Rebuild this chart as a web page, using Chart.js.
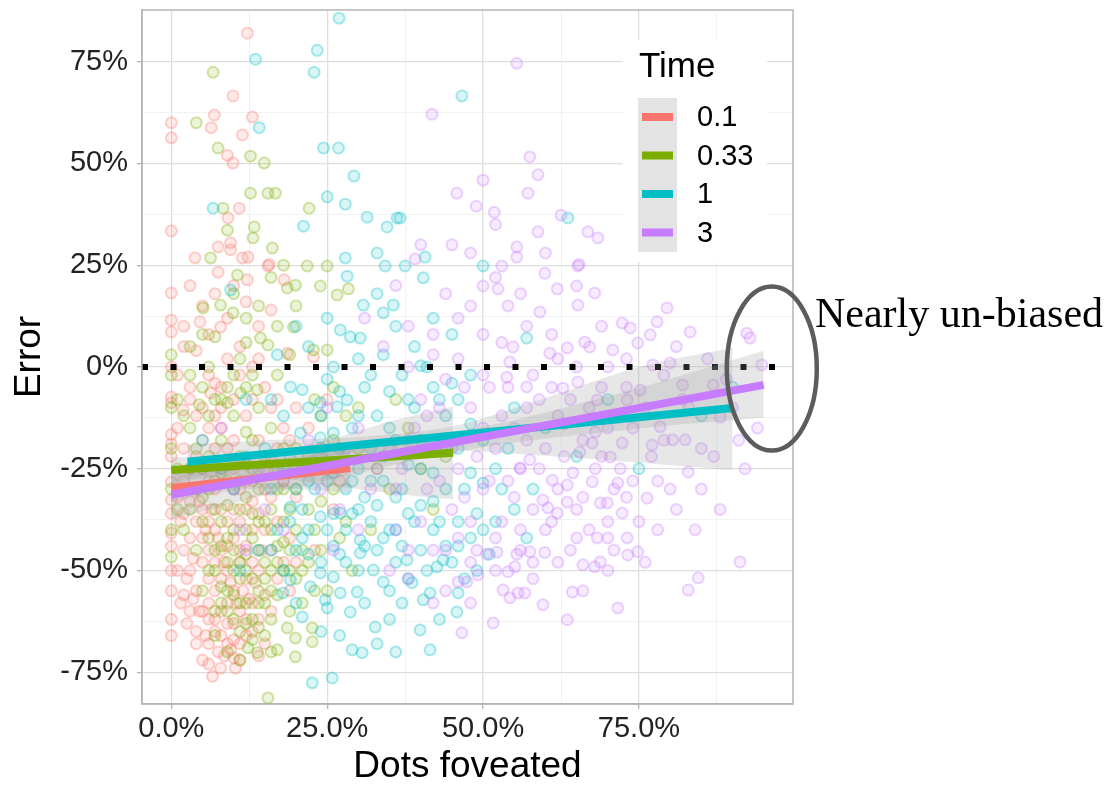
<!DOCTYPE html>
<html><head><meta charset="utf-8">
<script src="https://cdn.jsdelivr.net/npm/chart.js@4/dist/chart.umd.min.js"></script>
<style>html,body{margin:0;padding:0;background:#fff;}#wrap{position:relative;width:1112px;height:787px;}</style>
</head><body><div id="wrap"><canvas id="c" width="1112" height="787"></canvas></div>
<script>
// ---------- data ----------
const seriesLabels = ['0.1', '0.33', '1', '3'];
const seriesColors = ['#F8766D', '#7CAE00', '#00BFC4', '#C77CFF'];
const xGridValues = [0, 12.5, 25, 37.5, 50, 62.5, 75, 87.5];
const yGridValues = [-75, -62.5, -50, -37.5, -25, -12.5, 0, 12.5, 25, 37.5, 50, 62.5, 75];
const xRange = [-4.7, 99.7];
const yRange = [-82.8, 87.7];
const refLineY = 0;

const points01 = [[0,60],[0,56.3],[0,33.4],[0,18.2],[0,11.5],[0,8.6],[0,0],[0,-7.4],[0,-8.8],[0,-16.6],[0,-18.9],[0,-22],[0,-28.2],[0,-32.7],[0,-36],[0,-40.8],[0,-50],[0,-55],
[12.2,82],[9.9,66.6],[6.4,58.8],[6.9,61.9],[13,61.4],[11.4,57],[9,52],[9.9,50.1],[10.9,39],[9.1,36.6],[7.5,29.5],[9.5,30.5],[9.5,28.8],[3.8,26.8],[11.4,26.8],[12.3,27],[15.5,24.8],[15.7,25.2],[7.5,23.3],[12.2,21.4],[18.1,21.4],[4.6,11.1],[7.9,9.8],[18.6,3.4],[22.8,2.5],[6.3,-6.4],[1.9,-10.6],
[2,-20],[3,-25],[4,-30],[5,-35],[6,-28],[7,-40],[8,-45],[9,-50],[10,-55],[11,-60],[12,-62],[13,-58],[8,-60],[7,-65],[9,-68],[10,-71.5],[9.5,-69.5],[6.6,-76],[7.9,-74],[10.3,-74],[4,-55],[5,-60],[6,-62],[3,-50],[2,-45],[1.5,-38],[3,-42],[5,-48],[6,-52],[7,-55],[11,-48],[12,-44],[13,-40],[14,-36],[15,-30],[14,-50],[16,-45],[12,-35],[11,-30],[10,-25],[9,-20],[8,-15],[7,-12],[5,-18],[4,-12],[3,-5],[6,-2],[8,-5],[10,-8],[12,-12],[14,-18],[16,-22],[18,-28],[20,-32],[17,-38],[19,-42],[21,-25],[22,-15],[20,-10],[17,-8],[15,-5],[13,0],[11,5],[9,12],[5,15],[3,20],[14,10],[16,14],[2,5],[1,-2],[4,-65],[3,-60],[2,-56],[1,-50],[8,-35],[9,-38],[10,-42],[11,-45],[12,-52],[13,-48],[7,-30],[6,-45],[5,-42],[4,-38],[14,-62],[15,-56],[16,-60],[12,-66],[11,-68],[10,-63],[9,-58],[8,-52],[7,-48],[13,-65],[6,-68],[5,-72],[4,-68],[17,-52],[18,-48],[19,-55],[24,-20],[26,-35],[25,-8],[23,-45],[27,-28],[2,-28],[3,-33],[1,-15],[6,-38],[10,-35],[11,-38],[13,-28],[9,-44],[8,-26],[5,-25],[12,-24],[15,-40],[7,-20],
[1,-32],[2,-36],[2.5,-52],[3.5,-47],[4.5,-33],[5.5,-40],[6.5,-35],[7.5,-42],[8.5,-48],[9.5,-53],[10.5,-58],[11.5,-55],[12.5,-57],[13.5,-53],[14.5,-45],[6,-58],[7,-62],[8,-66],[9,-63],[10,-67],[11,-72],[8.5,-71],[7.5,-70],[5.5,-66],[4.5,-60],[3.5,-57],[2.5,-63],[1.5,-58],[0,-62],[0,-66],[0,-44],[4,-22],[6,-15],[8,-10],[10,-18],[12,-28],[13,-33],[15,-25],[16,-32],[17,-20],[18,-15],[3,-8],[5,-10],[7,-4],[9,2],[11,-2],[13,-8],[2,10],[4,4],[6,8],[7,18],[10,20],[12,16],[14,2],[16,-10],[19,-18],[20,-48],[15,-68],[14,-71],[6,-73]];

const points033 = [[6.7,72.4],[4,60],[7.5,53.8],[12.7,51.8],[14.9,50.1],[12.7,42.7],[15.5,42.7],[16.7,42.7],[8.3,39],[22.1,39],[13.3,34.4],[9,33.6],[13.1,31.7],[16.2,29.2],[6.3,26.8],[21.8,24.8],[25,24.8],[10.6,22.6],[19.9,20.1],[18.6,19.4],[23.9,19.9],[28.4,19.2],[26.6,17.7],[5.1,14.5],[7.9,15.2],[9.9,13.3],[7,7.4],[14.3,7.1],[15.5,5.4],[19.6,9.8],[22.8,4.2],[25,4.2],[4.5,-9.3],[9,-8.8],[11.1,-6.4],[13.8,-5.6],[15.5,-81.3],[22.6,-67.5],[22.6,-64.1],[19.9,-66.6],[18.6,-64.1],[19.9,-71.2],[17,-69.5],[13.8,-70.2],[12.3,-69],[0,-46.7],
[3,-15],[4,-20],[5,-25],[6,-30],[7,-35],[8,-38],[9,-42],[10,-45],[11,-48],[12,-50],[13,-52],[14,-55],[15,-58],[16,-62],[10,-30],[11,-35],[12,-40],[13,-42],[14,-45],[15,-48],[16,-40],[17,-44],[18,-50],[19,-35],[20,-30],[21,-25],[18,-20],[16,-15],[14,-10],[12,-5],[10,-12],[8,-18],[6,-22],[9,-55],[8,-58],[7,-60],[10,-62],[11,-65],[12,-58],[13,-62],[9,-28],[8,-25],[7,-45],[6,-50],[5,-55],[4,-45],[3,-35],[2,-30],[1,-25],[0,-20],[0,-30],[0,-40],[17,-30],[18,-38],[19,-45],[20,-52],[21,-58],[22,-48],[23,-40],[24,-33],[22,-22],[24,-12],[26,-18],[27,-42],[29,-50],[25,-55],[11,2],[13,-2],[17,-2],[19,3],[6,0],[3,-2],[9,-5],[30,-20],[35,-30],[40,-25],[32,-40],[28,-12],[26,-5],[38,-15],[42,-35],[44,-22],[36,-8],[11,-52],[12,-46],[10,-50],[13,-36],[14,-30],[15,-38],[9,-48],[8,-44],[16,-50],[17,-56],[14,-64],[15,-66],[10,-40],[12,-32],[11,-22],[13,-18],[7,-8],[5,-5],[2,-12],[0,-10],[0,3],[0,-2],[10,18],[12,12],[17,10],[20,15],
[4,-30],[5,-38],[6,-42],[7,-50],[8,-54],[9,-60],[10,-56],[11,-58],[12,-63],[13,-67],[14,-58],[15,-52],[16,-55],[17,-48],[18,-43],[19,-50],[20,-40],[21,-45],[22,-35],[18,-30],[17,-25],[15,-22],[13,-25],[11,-28],[9,-34],[7,-28],[5,-32],[3,-25],[2,-40],[1,-35],[6,-12],[8,-8],[10,-2],[12,6],[14,15],[16,22],[18,25],[7,-66],[9,-70],[11,-72],[16,-70],[19,-60],[21,-50],[23,-55],[24,-45],[26,-30],[28,-38],[30,-10],[33,-25],[10,-24],[12,-16],[14,-38],[16,-35],[20,-20],[23,-8],[5,8],[3,5],[1,-8]];

const points1 = [[26.9,85.7],[23.4,77.8],[13.5,75.6],[22.9,72.4],[14.1,58.8],[24.4,53.8],[26.8,53.8],[29.3,46.9],[25,41.8],[27.9,40],[6.7,39],[31.4,36.8],[34.6,34.4],[36.2,36.6],[21.2,34.6],[27.9,26.8],[34.3,24.8],[28.2,22.3],[9.5,18.9],[46.6,66.6],[63.6,36.6],[36.7,36.6],[40.7,27],[37.5,24.8],[50,24.8],[40.4,21.9],[30.8,15.2],[34,13.3],[35.6,15.2],[27.1,9.1],[28.7,7.4],[30.3,7.1],[19.1,-4.9],[21,-5.6],[23.9,-8.8],[26.6,-9.8],[28.2,-8.1],[20.7,-16.2],[23.9,-17.4],[26,-16.2],[30.3,-42.5],[27.1,-35.9],[23.9,-36.8],[19.1,-34.4],[57,7.1],[50,-28.5],[22.6,-77.6],[25.8,-76.4],[29,-69.5],[30.6,-70.2],[32.7,-63.9],[28.7,-60.2],[25,-59.2],[21,-61.4],[29.8,-55.3],[34,-52.8],[32.4,-49.9],[30.3,-45.7],[23.9,-50.6],[26,-51.6],[27.1,-55.5],[24.7,-57.2],[22.3,-54],[19.1,-52.3],[17.9,-55.5],[38.6,-53],[40.4,-57.2],[41.5,-55.5],[46,-55.5],[45.8,-60.2],[39.9,-64.6],[41.5,-69.5],[42.6,-49.1],[43.6,-47.4],[37.8,-47.4],[40,0.3],
[15,-20],[18,-25],[20,-30],[22,-28],[24,-22],[26,-26],[28,-30],[30,-25],[32,-20],[34,-28],[36,-32],[38,-24],[40,-18],[42,-26],[44,-30],[46,-20],[48,-14],[33,-12],[35,-6],[37,-2],[39,-10],[41,0],[43,-8],[45,-4],[30,-35],[32,-38],[34,-42],[36,-40],[38,-36],[40,-34],[42,-40],[44,-44],[46,-38],[48,-42],[29,-15],[31,-5],[25,-3],[22,-40],[20,-45],[17,-40],[16,-30],[12,-22],[10,-30],[8,-25],[5,-18],[55,-10],[60,-15],[65,-22],[58,-30],[70,-8],[75,-25],[85,-12],[90,-5],[52,-38],[54,-20],[36,10],[39,5],[42,12],[45,8],[33,28],[30,2],[20,10],[17,3],[12,-8],[14,-45],[11,-50],[27,-20],[29,-28],[31,-32],[33,-45],[35,-15],[37,-30],[25,-40],[21,-35],[19,-22],[23,-30],[28,-48],[35,-55],[47,-30],[49,-50],[26,-44],
[16,-45],[18,-50],[19,-38],[21,-42],[22,-46],[23,-25],[24,-48],[25,-28],[26,-36],[27,-46],[28,-40],[29,-36],[30,-50],[31,-44],[32,-28],[33,-34],[34,-22],[35,-40],[36,-48],[37,-44],[38,-52],[39,-38],[40,-45],[41,-50],[42,-33],[43,-38],[44,-20],[45,-48],[46,-44],[47,-52],[48,-26],[49,-36],[50,-40],[51,-46],[52,-25],[53,-30],[55,-35],[57,-42],[24,-12],[27,-6],[30,-12],[32,-2],[34,3],[36,-18],[38,-8],[40,-25],[42,-5],[44,-12],[46,-8],[48,-2],[50,-18],[26,0],[22,-10],[18,-12],[16,-8],[20,-58],[24,-65],[31,-58],[35,-62],[37,-58],[33,-68],[27,-66],[36,-70],[43,-62],[22,5],[25,12],[33,18]];

const points3 = [[55.4,74.6],[41.8,62.1],[57.5,51.6],[58.8,47.2],[50,45.9],[45.8,42.7],[57.2,42.7],[48.9,39.5],[51.8,38],[62.5,37.3],[58.8,33.2],[66.8,33.2],[68.4,31.7],[55.4,29.5],[55.4,27],[39.1,26.5],[53,24.8],[65.2,24.8],[65.4,25.2],[59.9,23],[50,19.9],[52.4,19.2],[61.9,19.2],[65,19.9],[67.9,18.2],[87.3,74.4],
[59.1,13.5],[65.2,15.2],[79.5,14.5],[77.9,11.1],[72.3,10.8],[73.6,9.6],[66.3,6.1],[67.1,4.9],[70.8,4.2],[74.8,5.9],[83.2,8.6],[76.8,7.9],[92.3,8.3],[92.8,7.1],[63.5,4.7],[60.7,3.4],[54.8,4.9],[54.3,1.2],[53.8,-2.5],[70,0],[77.2,0.5],[80,1],[94.7,0.5],[82,-4.4],[86.9,-4.4],[88,-12.3],[65.2,-3.7],[62.8,-5.2],[57,-4.9],[68.3,-8.1],[73.1,-8.1],[75.2,-5.7],[78.4,-14.7],[80.4,-17.9],[82.4,-17.9],[77.1,-19.2],[72.3,-18.7],[70.4,-22.1],[67.5,-18.7],[65.5,-20.9],[82.9,-25.8],[71.6,-28.5],[76.3,-32.2],[67.5,-28.2],[64.4,-26],[63.5,-29],[61.1,-27.8],[68.8,-33.4],[69.9,-33.4],[72.3,-35.9],[63.5,-33.2],[61.9,-35.9],[68.3,-42],[70,-42],[73.1,-42],[59.6,-32.7],[60.4,-34.6],[57.5,-22.8],[55.9,-24.8],
[91.2,-47.9],[84.5,-51.8],[82.9,-54.8],[71.6,-59.2],[73.2,-46.2],[74.8,-45.4],[63.5,-62.1],[64.3,-55.3],[66,-48.6],[67.9,-49.1],[68.8,-47.9],[59.6,-58.4],[53.2,-54.8],[54.3,-56.7],[55.6,-55.5],[56.7,-55.5],[51.6,-62.9],[46.6,-65.3],[46,-52.8],[47.4,-52.8],[49.2,-51.1],[50.6,-46],[52.2,-45.5],[55.4,-46],[57.5,-45.4],[59.9,-45.6],[54,-50.3],[55.1,-49.1],
[35,-20],[37,-25],[39,-15],[41,-30],[43,-10],[45,-35],[47,-5],[49,-22],[51,-28],[53,-12],[55,-32],[57,-18],[59,-8],[61,-38],[63,-14],[65,-42],[67,-10],[69,-22],[71,-30],[73,-5],[36,-40],[38,-45],[40,-8],[42,-18],[44,-45],[46,-25],[48,-38],[50,-15],[52,-42],[54,-5],[56,-25],[58,-35],[60,-20],[62,-12],[64,-45],[66,-32],[68,-16],[70,-38],[72,-12],[74,-28],[30,-40],[28,-20],[32,-30],[25,-10],[20,-25],[15,-35],[10,-30],[8,-15],[34,5],[38,10],[42,3],[46,12],[50,8],[54,15],[58,-2],[62,2],[44,18],[48,28],[52,35],[40,30],[36,20],[31,12],[44,-55],[48,-48],[56,-45],[35,-50],[80,-30],[85,-20],[88,-35],[78,-40],[90,-10],[92,-25],[84,-40],[76,-48],[82,-8],[86,2],[89,-3],[94,-15],[79,-2],[81,5],[77,-22],[24,-30],[18,-40],[12,-45],[26,-45],
[36,-30],[38,-18],[40,-38],[41,-12],[42,-45],[43,-28],[44,-3],[45,-20],[46,-42],[47,-32],[48,-10],[49,-45],[50,-30],[51,-5],[52,-20],[53,-38],[54,-28],[55,-15],[56,-40],[57,-10],[58,-48],[59,-25],[60,-40],[61,-5],[62,-30],[63,-22],[64,-8],[65,-35],[66,-18],[67,-40],[68,-25],[69,-5],[70,-15],[71,-45],[72,-25],[73,-32],[74,-15],[75,-38],[76,-10],[78,-28],[79,-18],[81,-35],[83,-10],[85,-30],[87,-22],[91,-18],[38,0],[42,8],[46,2],[50,-2],[53,6],[57,10],[61,8],[65,0],[69,10],[73,2],[48,15],[52,22],[56,18],[60,28],[45,30],[38,-52],[42,-58],[48,-58],[52,-50],[58,-52],[62,-48],[66,-55],[70,-50],[33,-25],[30,-15],[27,-35],[22,-18],[18,-28],[14,-25],[11,-40]];

// fitted lines (start / end)
const fit01 = [[0,-29.7],[28.7,-24.8]];
const fit033 = [[0,-25.3],[45.2,-21.1]];
const fit1 = [[2.6,-23.3],[90,-10.1]];
const fit3 = [[0,-31.4],[95,-4.4]];

// confidence bands
const band01X = [0, 10, 20, 28.7];
const band01Lo = [-33.2, -30.3, -30.0, -31.0];
const band01Hi = [-26.2, -24.7, -22.6, -18.6];
const band033X = [0, 12, 25, 35, 45.2];
const band033Lo = [-28.5, -26.5, -29.0, -31.0, -32.5];
const band033Hi = [-22.1, -22.2, -18.0, -13.4, -9.7];
const band1X = [2.6, 15, 30, 45, 60, 75, 90];
const band1Lo = [-27.5, -24.0, -21.2, -20.5, -21.8, -23.5, -25.3];
const band1Hi = [-19.1, -18.0, -17.2, -14.6, -7.6, 0.0, 4.7];
const band3X = [0, 25, 50, 75, 95];
const band3Lo = [-37.4, -27.8, -19.7, -15.1, -12.5];
const band3Hi = [-25.4, -20.8, -14.7, -5.1, 4.0];

// ---------- helpers ----------
function rgba(hex, a) {
  const n = parseInt(hex.slice(1), 16);
  return `rgba(${(n >> 16) & 255},${(n >> 8) & 255},${n & 255},${a})`;
}
const toXY = arr => arr.map(([x, y]) => ({ x, y }));
const zipXY = (xs, ys) => xs.map((x, i) => ({ x, y: ys[i] }));

const pointSets = [points01, points033, points1, points3];
const fitSets = [fit01, fit033, fit1, fit3];
const bandSets = [[band01X, band01Lo, band01Hi], [band033X, band033Lo, band033Hi], [band1X, band1Lo, band1Hi], [band3X, band3Lo, band3Hi]];

const datasets = [];
pointSets.forEach((pts, i) => {
  datasets.push({
    type: 'scatter', label: seriesLabels[i], data: toXY(pts),
    pointRadius: 5.5, pointBorderWidth: 2,
    backgroundColor: rgba(seriesColors[i], 0.15), borderColor: rgba(seriesColors[i], 0.33),
    order: 23 - i
  });
});
datasets.push({
  type: 'line', label: 'ref', data: [{ x: xRange[0], y: refLineY }, { x: xRange[1], y: refLineY }],
  borderColor: '#000', borderWidth: 6, borderDash: [6, 22.5], borderCapStyle: 'butt',
  pointRadius: 0, fill: false, order: 15
});
bandSets.forEach(([xs, lo, hi], i) => {
  datasets.push({ type: 'line', label: 'bandhi' + i, data: zipXY(xs, hi), borderWidth: 0, pointRadius: 0, fill: false, order: 12 - i, tension: 0.3 });
  datasets.push({ type: 'line', label: 'bandlo' + i, data: zipXY(xs, lo), borderWidth: 0, pointRadius: 0, fill: '-1', backgroundColor: 'rgba(153,153,153,0.24)', order: 12 - i, tension: 0.3 });
});
fitSets.forEach((f, i) => {
  datasets.push({
    type: 'line', label: 'fit' + seriesLabels[i], data: toXY(f),
    borderColor: seriesColors[i], borderWidth: 8, borderCapStyle: 'butt',
    pointRadius: 0, fill: false, order: 4 - i
  });
});

const isMajor = v => Math.abs(v % 25) < 1e-9;
const FONT = 'Liberation Sans';

const overlay = {
  id: 'overlay',
  afterDraw(chart) {
    const { ctx, chartArea: a, scales: { x, y } } = chart;
    ctx.save();
    // panel frame
    ctx.strokeStyle = '#b5b5b5'; ctx.lineWidth = 1.5;
    ctx.strokeRect(a.left, a.top, a.right - a.left, a.bottom - a.top);
    // legend
    const lx = a.right - 170, ly = a.top + 30;
    ctx.fillStyle = '#ffffff';
    ctx.fillRect(lx, ly, 144, 222);
    ctx.fillStyle = '#000';
    ctx.font = `35px "${FONT}"`; ctx.textBaseline = 'alphabetic'; ctx.textAlign = 'left';
    ctx.fillText('Time', lx + 16, ly + 37);
    ctx.fillStyle = '#e3e3e3';
    ctx.fillRect(lx + 15, ly + 58, 39, 154);
    ctx.font = `29px "${FONT}"`; ctx.textBaseline = 'middle';
    seriesLabels.forEach((lab, i) => {
      const cy = ly + 77 + 38.5 * i;
      ctx.fillStyle = seriesColors[i];
      ctx.fillRect(lx + 19, cy - 4, 31, 8);
      ctx.fillStyle = '#000';
      ctx.fillText(lab, lx + 74, cy + 1);
    });
    // annotation ellipse + text
    const ex = x.getPixelForValue(96.3), ey = y.getPixelForValue(-0.4);
    ctx.beginPath(); ctx.ellipse(ex, ey, 45, 82, 0, 0, Math.PI * 2);
    ctx.strokeStyle = '#5c5c5c'; ctx.lineWidth = 4.5; ctx.stroke();
    ctx.fillStyle = '#000'; ctx.font = '42px "Liberation Serif"'; ctx.textBaseline = 'alphabetic';
    ctx.fillText('Nearly un-biased', a.right + 22, y.getPixelForValue(refLineY) - 40);
    ctx.restore();
  }
};

new Chart(document.getElementById('c'), {
  type: 'scatter',
  data: { datasets },
  options: {
    responsive: false, animation: false, devicePixelRatio: 1, events: [],
    layout: { padding: { left: 0, right: 319, top: 10, bottom: 0 } },
    plugins: { legend: { display: false }, tooltip: { enabled: false } },
    scales: {
      x: {
        type: 'linear', min: xRange[0], max: xRange[1],
        afterBuildTicks: s => { s.ticks = xGridValues.map(v => ({ value: v })); },
        afterFit: s => { s.height = 83; s.paddingLeft = 0; s.paddingRight = 0; },
        ticks: { autoSkip: false, maxRotation: 0, padding: 5, color: '#222',
          font: { family: FONT, size: 29, lineHeight: 1 },
          callback: v => isMajor(v) ? v.toFixed(1) + '%' : '' },
        grid: { color: c => isMajor(c.tick.value) ? '#dedede' : '#efefef',
          lineWidth: c => isMajor(c.tick.value) ? 1.3 : 0.8,
          tickLength: 5, tickColor: c => isMajor(c.tick.value) ? '#b5b5b5' : 'rgba(0,0,0,0)', tickWidth: 1.3 },
        border: { display: true, color: '#b5b5b5', width: 1.5 },
        title: { display: true, text: 'Dots foveated', color: '#000',
          font: { family: FONT, size: 37, lineHeight: 1 }, padding: { top: 0, bottom: 1.5 } }
      },
      y: {
        type: 'linear', min: yRange[0], max: yRange[1],
        afterBuildTicks: s => { s.ticks = yGridValues.map(v => ({ value: v })); },
        afterFit: s => { s.width = 142; s.paddingTop = 0; s.paddingBottom = 0; },
        ticks: { autoSkip: false, padding: 9, color: '#222',
          font: { family: FONT, size: 29, lineHeight: 1 },
          callback: v => isMajor(v) ? v + '%' : '' },
        grid: { color: c => isMajor(c.tick.value) ? '#dedede' : '#efefef',
          lineWidth: c => isMajor(c.tick.value) ? 1.3 : 0.8,
          tickLength: 5, tickColor: c => isMajor(c.tick.value) ? '#b5b5b5' : 'rgba(0,0,0,0)', tickWidth: 1.3 },
        border: { display: true, color: '#b5b5b5', width: 1.5 },
        title: { display: true, text: 'Error', color: '#000',
          font: { family: FONT, size: 37, lineHeight: 1 }, padding: { top: 11, bottom: 0 } }
      }
    }
  },
  plugins: [overlay]
});
</script></body></html>
